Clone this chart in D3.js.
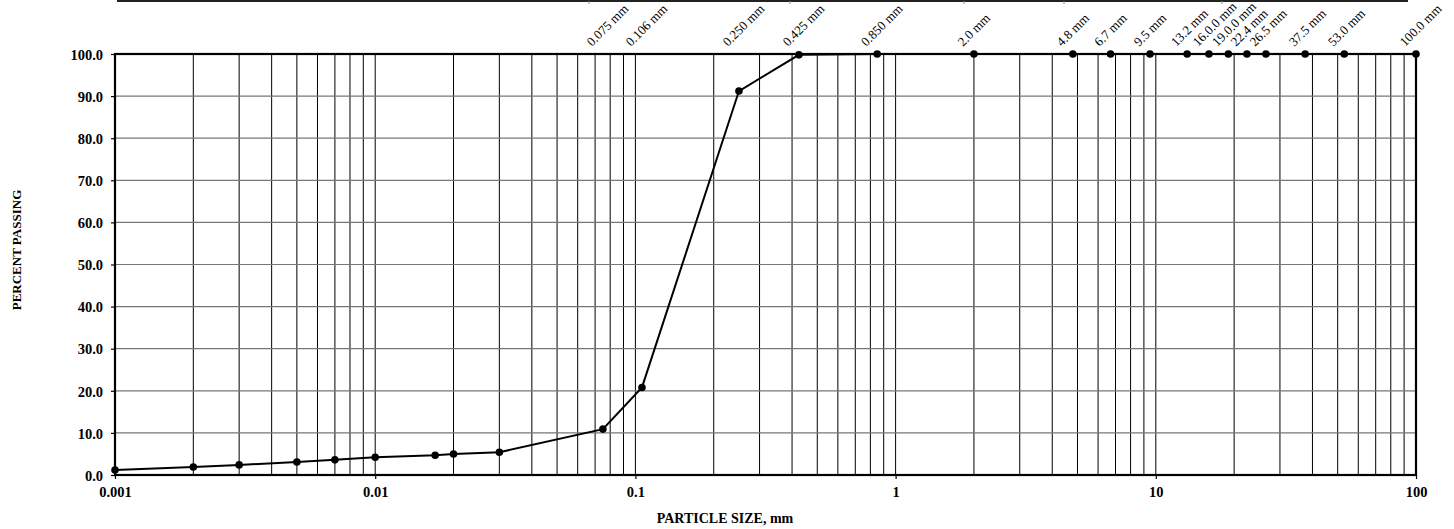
<!DOCTYPE html>
<html><head><meta charset="utf-8">
<script src="https://cdn.jsdelivr.net/npm/d3@7"></script>
<style>body{margin:0;background:#fff}svg{display:block}</style>
</head><body>
<svg id="c" width="1454" height="529"></svg>
<script>
// ---- data ----
const sizes = [0.001,0.002,0.003,0.005,0.007,0.01,0.017,0.02,0.03,0.075,0.106,0.25,0.425,0.85,2.0,4.8,6.7,9.5,13.2,16.0,19.0,22.4,26.5,37.5,53.0,100.0];
const passing = [1.2,1.9,2.4,3.1,3.6,4.2,4.7,5.0,5.4,10.9,20.8,91.2,99.8,100,100,100,100,100,100,100,100,100,100,100,100,100];
const sieveSizes = [0.075,0.106,0.25,0.425,0.85,2.0,4.8,6.7,9.5,13.2,16.0,19.0,22.4,26.5,37.5,53.0,100.0];
const sieveLabels = ["0.075 mm","0.106 mm","0.250 mm","0.425 mm","0.850 mm","2.0 mm","4.8 mm","6.7 mm","9.5 mm","13.2 mm","16.0.0 mm","19.0.0 mm","22.4 mm","26.5 mm","37.5 mm","53.0 mm","100.0 mm"];
const yTicks = [0,10,20,30,40,50,60,70,80,90,100];
const xTicks = [0.001,0.01,0.1,1,10,100];
const xTickLabels = ["0.001","0.01","0.1","1","10","100"];
const topMarks = [589,790,964,1064,1222];

// ---- layout ----
const L=115, R=1416, T=54, B=475;
const svg = d3.select("#c");
const x = d3.scaleLog().domain([0.001,100]).range([L,R]);
const y = d3.scaleLinear().domain([0,100]).range([B,T]);
const font = "'Liberation Serif','Times New Roman',serif";

// top rule
svg.append("line").attr("x1",117).attr("x2",1408).attr("y1",1).attr("y2",1).attr("stroke","#222").attr("stroke-width",2);
svg.selectAll(".tm").data(topMarks).enter().append("line").attr("x1",d=>d).attr("x2",d=>d).attr("y1",1).attr("y2",4).attr("stroke","#888").attr("stroke-width",1);

// vertical grid (all 1..9 multiples per decade)
const minor = [];
for (let e=-3; e<2; e++) for (let m=1; m<10; m++) minor.push(m*Math.pow(10,e));
svg.append("g").selectAll("line").data(minor.filter(v=>v>0.001&&v<100)).enter().append("line")
  .attr("x1",d=>x(d)).attr("x2",d=>x(d)).attr("y1",T).attr("y2",B)
  .attr("stroke","#000").attr("stroke-width",1);

// horizontal grid
svg.append("g").selectAll("line").data(yTicks.filter(v=>v>0&&v<100)).enter().append("line")
  .attr("x1",L).attr("x2",R).attr("y1",d=>y(d)).attr("y2",d=>y(d))
  .attr("stroke","#777").attr("stroke-width",1.2);

// frame
svg.append("rect").attr("x",L).attr("y",T).attr("width",R-L).attr("height",B-T)
  .attr("fill","none").attr("stroke","#000").attr("stroke-width",2.2);

// y axis
const yAxis = d3.axisLeft(y).tickValues(yTicks).tickSize(4).tickFormat(d=>d.toFixed(1));
const gy = svg.append("g").attr("transform",`translate(${L},0)`).call(yAxis);
gy.select(".domain").remove();
gy.selectAll(".tick line").attr("stroke","#000").attr("stroke-width",1.2);
gy.selectAll(".tick text").attr("x",-12).attr("dy","0.36em")
  .style("font-family",font).style("font-weight","bold").style("font-size","14.5px").attr("fill","#000");

// x axis
const xAxis = d3.axisBottom(x).tickValues(xTicks).tickSize(4).tickFormat((d,i)=>xTickLabels[i]);
const gx = svg.append("g").attr("transform",`translate(0,${B})`).call(xAxis);
gx.select(".domain").remove();
gx.selectAll(".tick line").attr("stroke","#000").attr("stroke-width",1.2);
gx.selectAll(".tick text").attr("y",12).attr("dy","0.71em")
  .style("font-family",font).style("font-weight","bold").style("font-size","14.5px").attr("fill","#000");

// titles
svg.append("text").attr("x",725).attr("y",523).attr("text-anchor","middle")
  .style("font-family",font).style("font-weight","bold").style("font-size","14px").text("PARTICLE SIZE, mm");
svg.append("text").attr("transform","translate(21,250) rotate(-90)").attr("text-anchor","middle")
  .style("font-family",font).style("font-weight","bold").style("font-size","13px").text("PERCENT PASSING");

// curve
const pts = sizes.map((s,i)=>[s,passing[i]]);
svg.append("path").datum(pts).attr("fill","none").attr("stroke","#000").attr("stroke-width",2)
  .attr("d", d3.line().x(d=>x(d[0])).y(d=>y(d[1])));
svg.append("g").selectAll("circle").data(pts).enter().append("circle")
  .attr("cx",d=>x(d[0])).attr("cy",d=>y(d[1])).attr("r",3.8).attr("fill","#000");

// sieve labels
svg.append("g").selectAll("text").data(sieveSizes).enter().append("text")
  .attr("transform",d=>`translate(${x(d)-11},47) rotate(-45)`)
  .style("font-family",font).style("font-size","13px").attr("fill","#000")
  .text((d,i)=>sieveLabels[i]);
</script>
</body></html>
